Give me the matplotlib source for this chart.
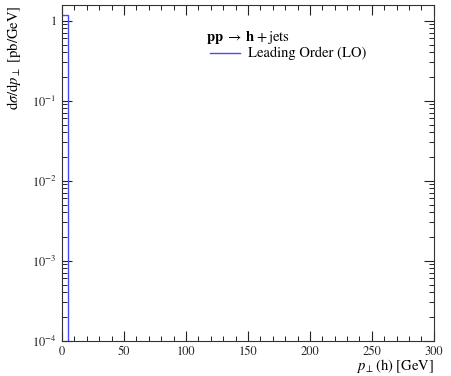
import matplotlib
matplotlib.use("Agg")
import matplotlib.pyplot as plt
from matplotlib.ticker import FixedLocator, LogLocator, FuncFormatter, MultipleLocator, NullFormatter
from matplotlib.lines import Line2D

# Data (histogram bins in GeV, cross section in pb/GeV)
pt_edges = [0, 5, 10]
xsec = [1.18, 0.0]
series_label = "Leading Order (LO)"
process_title = r"$\mathbf{pp} \;\to\; \mathbf{h} + \mathrm{jets}$"
x_ticks = [0, 50, 100, 150, 200, 250, 300]
y_ticks = [1e-4, 1e-3, 1e-2, 1e-1, 1]
y_ticklabels = [r"$10^{-4}$", r"$10^{-3}$", r"$10^{-2}$", r"$10^{-1}$", "1"]

plt.rcParams['font.family'] = ['STIXGeneral', 'DejaVu Serif']
plt.rcParams['mathtext.fontset'] = 'stix'

fig = plt.figure(figsize=(4.51, 3.76), dpi=100)
ax = fig.add_axes([0.1375, 0.094, 0.962 - 0.1375, 0.986 - 0.094])
ax.set_yscale('log', nonpositive='clip')

xs = list(pt_edges)
ys = list(xsec) + [xsec[-1]]
ax.step(xs, ys, where='post', color='#4848ff', lw=1.0)

ax.set_xlim(0, 300)
ax.set_ylim(1e-4, 1.557)

ax.xaxis.set_major_locator(FixedLocator(x_ticks))
ax.xaxis.set_minor_locator(MultipleLocator(10))
ax.yaxis.set_major_locator(FixedLocator(y_ticks))
ax.yaxis.set_major_formatter(FuncFormatter(lambda v, p: y_ticklabels[y_ticks.index(min(y_ticks, key=lambda t: abs(t - v)))]))
ax.yaxis.set_minor_locator(LogLocator(base=10, subs=range(2, 10), numticks=20))
ax.yaxis.set_minor_formatter(NullFormatter())

ax.tick_params(which='both', direction='in', top=True, right=True, labelsize=9, colors='#222222')
ax.tick_params(which='major', length=7.5, width=0.8, pad=4)
ax.tick_params(which='minor', length=3.8, width=0.7)
for s in ax.spines.values():
    s.set_linewidth(0.8)
    s.set_color('#333333')

fig.text(0.962, 0.002, r"$p_\perp(\mathrm{h})$ [GeV]", ha='right', va='bottom', fontsize=10.5)
fig.text(0.012, 0.986, r"$\mathrm{d}\sigma/\mathrm{d}p_\perp$ [pb/GeV]", ha='left', va='top', rotation=90, fontsize=10.5)

# legend
fig.text(206 / 451, 1 - 37 / 376, process_title, ha='left', va='center', fontsize=10.5)
fig.add_artist(Line2D([210 / 451, 240 / 451], [1 - 53 / 376, 1 - 53 / 376], color='#4848ff', lw=1.0))
fig.text(248 / 451, 1 - 53 / 376, series_label, ha='left', va='center', fontsize=10.5)

fig.savefig("out.png", dpi=100)
